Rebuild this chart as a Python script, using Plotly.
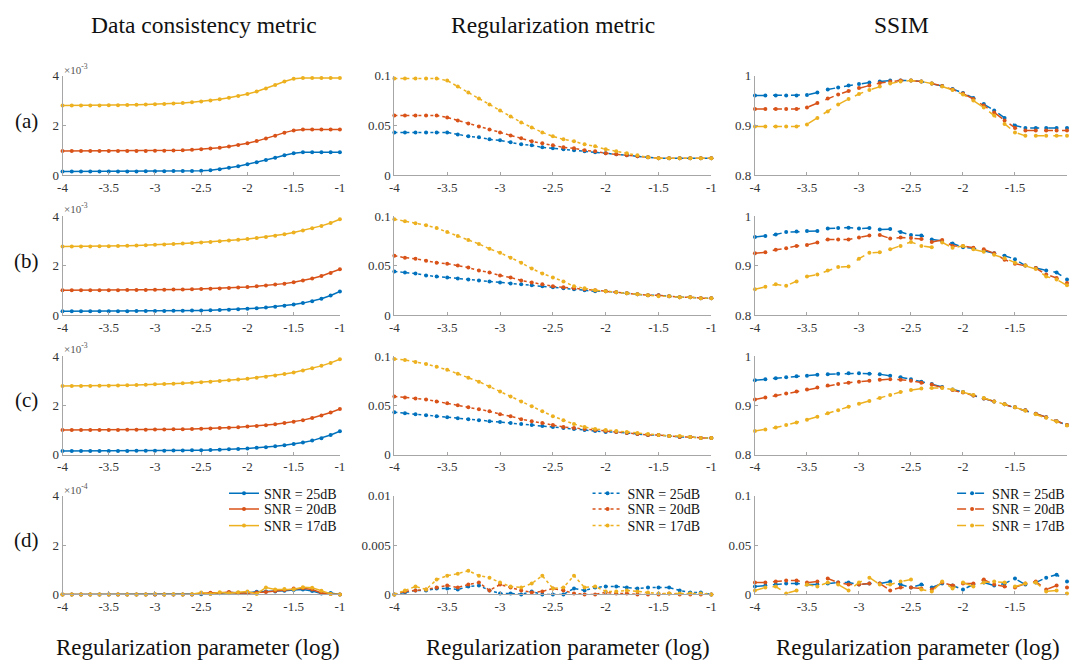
import plotly.graph_objects as go

LOG_LAMBDA = [-4.0, -3.9, -3.8, -3.7, -3.6, -3.5, -3.4, -3.3, -3.2, -3.1,
              -3.0, -2.9, -2.8, -2.7, -2.6, -2.5, -2.4, -2.3, -2.2, -2.1,
              -2.0, -1.9, -1.8, -1.7, -1.6, -1.5, -1.4, -1.3, -1.2, -1.1, -1.0]
SNR_LABELS = ["SNR = 25dB", "SNR = 20dB", "SNR = 17dB"]
X_TICKS = [-4, -3.5, -3, -2.5, -2, -1.5, -1]
X_TICKTEXT = ["-4", "-3.5", "-3", "-2.5", "-2", "-1.5", "-1"]
COL_TITLES = ["Data consistency metric", "Regularization metric", "SSIM"]
ROW_LABELS = ["(a)", "(b)", "(c)", "(d)"]
X_TITLE = "Regularization parameter (log)"

# ---- Data consistency metric (rows a-c in units of 1e-3, row d in 1e-4)
dc_a_25 = [0.15, 0.15, 0.15, 0.15, 0.15, 0.15, 0.15, 0.15, 0.15, 0.16, 0.16, 0.16, 0.17, 0.17, 0.17, 0.18,
           0.20, 0.24, 0.30, 0.36, 0.44, 0.52, 0.61, 0.70, 0.80, 0.88, 0.92, 0.92, 0.92, 0.92, 0.92]
dc_a_20 = [0.97, 0.97, 0.97, 0.97, 0.97, 0.97, 0.97, 0.97, 0.97, 0.97, 0.98, 0.98, 0.99, 1.00, 1.02, 1.04,
           1.07, 1.10, 1.15, 1.21, 1.28, 1.37, 1.47, 1.59, 1.71, 1.80, 1.84, 1.84, 1.84, 1.84, 1.84]
dc_a_17 = [2.80, 2.80, 2.80, 2.80, 2.80, 2.81, 2.81, 2.82, 2.83, 2.84, 2.85, 2.86, 2.88, 2.90, 2.93, 2.96,
           3.00, 3.05, 3.11, 3.18, 3.26, 3.36, 3.48, 3.62, 3.76, 3.87, 3.90, 3.90, 3.90, 3.90, 3.90]
dc_b_25 = [0.15, 0.15, 0.15, 0.15, 0.15, 0.15, 0.15, 0.15, 0.16, 0.16, 0.16, 0.16, 0.17, 0.17, 0.18, 0.18,
           0.19, 0.20, 0.21, 0.23, 0.25, 0.27, 0.30, 0.33, 0.37, 0.42, 0.48, 0.56, 0.66, 0.79, 0.95]
dc_b_20 = [1.00, 1.00, 1.00, 1.00, 1.00, 1.00, 1.00, 1.01, 1.01, 1.01, 1.02, 1.02, 1.03, 1.03, 1.04, 1.05,
           1.06, 1.07, 1.09, 1.11, 1.13, 1.16, 1.19, 1.23, 1.27, 1.33, 1.40, 1.48, 1.58, 1.70, 1.85]
dc_b_17 = [2.78, 2.78, 2.78, 2.78, 2.79, 2.79, 2.80, 2.81, 2.82, 2.83, 2.85, 2.86, 2.88, 2.90, 2.92, 2.94,
           2.96, 2.99, 3.02, 3.05, 3.08, 3.12, 3.16, 3.21, 3.27, 3.34, 3.42, 3.51, 3.61, 3.73, 3.88]
dc_c_25 = [0.15, 0.15, 0.15, 0.15, 0.15, 0.15, 0.15, 0.15, 0.16, 0.16, 0.16, 0.16, 0.17, 0.17, 0.18, 0.18,
           0.19, 0.20, 0.22, 0.23, 0.25, 0.28, 0.30, 0.34, 0.38, 0.43, 0.49, 0.57, 0.67, 0.80, 0.95]
dc_c_20 = [1.00, 1.00, 1.00, 1.00, 1.00, 1.00, 1.00, 1.01, 1.01, 1.01, 1.02, 1.02, 1.03, 1.03, 1.04, 1.05,
           1.06, 1.08, 1.09, 1.11, 1.14, 1.16, 1.19, 1.23, 1.28, 1.33, 1.40, 1.49, 1.59, 1.71, 1.85]
dc_c_17 = [2.78, 2.78, 2.78, 2.78, 2.79, 2.79, 2.80, 2.81, 2.82, 2.83, 2.85, 2.86, 2.88, 2.90, 2.92, 2.94,
           2.96, 2.99, 3.02, 3.05, 3.08, 3.12, 3.16, 3.21, 3.27, 3.33, 3.41, 3.50, 3.60, 3.72, 3.87]
dc_d_25 = [0, 0, 0, 0, 0, 0, 0, 0, 0, 0, 0, 0, 0, 0, 0, 0.01,
           0.03, 0.05, 0.08, 0.07, 0.06, 0.11, 0.12, 0.12, 0.15, 0.18, 0.20, 0.14, 0.04, 0.06, 0.0]
dc_d_20 = [0, 0, 0, 0, 0, 0, 0, 0, 0, 0, 0, 0, 0, 0, 0, 0.04,
           0.07, 0.06, 0.10, 0.05, 0.05, 0.08, 0.10, 0.14, 0.18, 0.24, 0.25, 0.20, 0.06, 0.02, 0.0]
dc_d_17 = [0, 0, 0, 0, 0, 0, 0, 0, 0, 0, 0.02, 0.0, 0.01, 0.0, 0.01, 0.08,
           0.02, 0.09, 0.05, 0.09, 0.12, 0.02, 0.28, 0.20, 0.22, 0.21, 0.29, 0.27, 0.15, 0.02, 0.0]

# ---- Regularization metric
rg_a_25 = [.043, .043, .043, .043, .043, .043, .041, .039, .038, .036, .035, .033, .031, .030, .028, .027,
           .026, .025, .024, .023, .022, .021, .020, .019, .018, .017, .017, .017, .017, .017, .017]
rg_a_20 = [.060, .060, .060, .060, .060, .058, .055, .052, .049, .046, .043, .040, .037, .034, .032, .030,
           .028, .027, .025, .024, .022, .021, .020, .019, .018, .017, .017, .017, .017, .017, .017]
rg_a_17 = [.097, .097, .097, .097, .097, .095, .089, .083, .077, .071, .065, .059, .053, .048, .043, .039,
           .036, .034, .031, .029, .026, .024, .022, .020, .018, .017, .017, .017, .017, .017, .017]
rg_b_25 = [.044, .043, .042, .040, .039, .038, .037, .036, .035, .034, .033, .032, .031, .030, .029, .028,
           .027, .026, .025, .024, .024, .023, .022, .021, .020, .020, .019, .018, .018, .017, .017]
rg_b_20 = [.060, .058, .057, .055, .053, .052, .050, .048, .045, .043, .040, .038, .035, .033, .031, .029,
           .028, .027, .026, .025, .024, .023, .022, .021, .020, .020, .019, .018, .018, .017, .017]
rg_b_17 = [.097, .095, .093, .091, .088, .084, .080, .076, .072, .067, .063, .058, .053, .047, .042, .038,
           .034, .029, .027, .025, .024, .023, .022, .021, .020, .019, .019, .018, .018, .017, .017]
rg_c_25 = [.043, .042, .041, .040, .039, .038, .037, .036, .035, .034, .033, .032, .031, .030, .029, .028,
           .027, .026, .025, .024, .023, .023, .022, .021, .020, .020, .019, .018, .018, .017, .017]
rg_c_20 = [.059, .058, .057, .056, .054, .052, .050, .048, .046, .044, .041, .039, .036, .034, .032, .030,
           .028, .027, .026, .025, .024, .023, .022, .021, .020, .020, .019, .018, .018, .017, .017]
rg_c_17 = [.097, .096, .094, .092, .089, .086, .082, .078, .074, .069, .064, .059, .054, .049, .044, .039,
           .035, .031, .028, .026, .025, .024, .023, .022, .021, .020, .019, .019, .018, .017, .017]
rg_d_25 = [0, .0002, .0004, .0004, .0006, .0006, .0005, .0008, .0009, .0004, .0001, .0001, .0000, .0003,
           .0000, .0000, .0000, .0006, .0004, .0007, .0008, .0008, .0007, .0006, .0007, .0007, .0007,
           .0004, .0002, .0002, 0]
rg_d_20 = [0, .0003, .0004, .0005, .0007, .0009, .0007, .0010, .0012, .0004, .0010, .0007, .0004, .0002,
           .0003, .0006, .0004, .0001, .0000, .0000, .0002, .0001, .0001, .0000, .0000, .0000, .0001,
           .0000, .0000, .0000, 0]
rg_d_17 = [0, .0004, .0008, .0005, .0015, .0019, .0021, .0024, .0019, .0017, .0012, .0008, .0007, .0011,
           .0019, .0006, .0007, .0019, .0007, .0008, .0003, .0003, .0004, .0003, .0002, .0001, .0001,
           .0001, .0001, .0001, 0]

# ---- SSIM
ss_a_25 = [.960, .960, .960, .960, .960, .961, .966, .972, .976, .980, .983, .986, .988, .990, .990, .990,
           .988, .984, .979, .973, .965, .955, .943, .930, .915, .900, .895, .895, .895, .895, .895]
ss_a_20 = [.933, .933, .933, .933, .933, .936, .945, .954, .962, .969, .975, .980, .985, .988, .990, .990,
           .988, .984, .979, .972, .964, .953, .940, .926, .910, .895, .890, .890, .890, .890, .890]
ss_a_17 = [.898, .898, .898, .898, .898, .902, .915, .928, .942, .953, .963, .971, .978, .984, .988, .990,
           .988, .984, .978, .971, .962, .950, .936, .920, .903, .886, .879, .879, .879, .879, .879]
ss_b_25 = [.958, .960, .963, .968, .969, .970, .970, .975, .976, .977, .975, .976, .973, .974, .968, .962,
           .961, .953, .950, .945, .937, .935, .930, .925, .920, .913, .900, .895, .890, .886, .872]
ss_b_20 = [.925, .927, .932, .935, .940, .942, .947, .953, .953, .953, .957, .961, .962, .955, .957, .956,
           .954, .948, .952, .940, .940, .936, .933, .925, .912, .904, .900, .895, .882, .875, .865]
ss_b_17 = [.852, .857, .862, .859, .868, .878, .882, .890, .897, .898, .914, .926, .927, .933, .940, .948,
           .940, .937, .947, .936, .940, .933, .928, .922, .915, .906, .900, .893, .878, .872, .860]
ss_c_25 = [.951, .953, .955, .957, .959, .960, .962, .963, .964, .965, .965, .964, .963, .960, .957, .953,
           .948, .943, .937, .932, .927, .920, .914, .908, .902, .896, .890, .883, .876, .868, .860]
ss_c_20 = [.912, .916, .920, .924, .928, .932, .936, .940, .943, .946, .948, .950, .952, .953, .952, .950,
           .946, .942, .936, .931, .926, .920, .914, .908, .902, .896, .890, .883, .876, .868, .860]
ss_c_17 = [.848, .851, .855, .860, .865, .871, .877, .884, .890, .897, .903, .909, .915, .921, .927, .931,
           .934, .935, .935, .932, .927, .921, .915, .908, .902, .896, .889, .882, .875, .867, .859]
ss_d_25 = [.008, .009, .010, .011, .011, .010, .010, .011, .012, .012, .010, .011, .011, .013, .010, .007,
           .010, .007, .011, .009, .005, .010, .012, .009, .011, .016, .010, .012, .017, .020, .013]
ss_d_20 = [.012, .012, .013, .014, .014, .012, .013, .016, .012, .010, .010, .011, .011, .004, .007, .007,
           .006, .005, .012, .009, .011, .011, .015, .010, .008, .007, .011, .013, .005, .009, .007]
ss_d_17 = [.004, .007, .008, .001, .004, .010, .008, .012, .010, .004, .012, .017, .010, .010, .013, .015,
           .005, .003, .013, .006, .012, .008, .012, .013, .012, .008, .011, .012, .003, .004, .001]

COLORS = ["#0072BD", "#D95319", "#EDB120"]
FONT = "Liberation Serif"

panels = [
    [[dc_a_25, dc_a_20, dc_a_17], [rg_a_25, rg_a_20, rg_a_17], [ss_a_25, ss_a_20, ss_a_17]],
    [[dc_b_25, dc_b_20, dc_b_17], [rg_b_25, rg_b_20, rg_b_17], [ss_b_25, ss_b_20, ss_b_17]],
    [[dc_c_25, dc_c_20, dc_c_17], [rg_c_25, rg_c_20, rg_c_17], [ss_c_25, ss_c_20, ss_c_17]],
    [[dc_d_25, dc_d_20, dc_d_17], [rg_d_25, rg_d_20, rg_d_17], [ss_d_25, ss_d_20, ss_d_17]],
]

Y_DC = ([0, 4], [0, 2, 4], ["0", "2", "4"])
Y_RG = ([0, 0.1], [0, 0.05, 0.1], ["0", "0.05", "0.1"])
Y_RG_D = ([0, 0.01], [0, 0.005, 0.01], ["0", "0.005", "0.01"])
Y_SS = ([0.8, 1.0], [0.8, 0.9, 1.0], ["0.8", "0.9", "1"])
Y_SS_D = ([0, 0.1], [0, 0.05, 0.1], ["0", "0.05", "0.1"])
yspec = [[Y_DC, Y_RG, Y_SS]] * 3 + [[Y_DC, Y_RG_D, Y_SS_D]]

# The page body adds an 8px margin, so the figure is sized so the page is 1080x670.
OFF = 8
W, H = 1080 - 2 * OFF, 670 - 2 * OFF


def px(p):
    return min(max((p - OFF) / W, 0), 1)


def py(p):
    return min(max(1 - (p - OFF) / H, 0), 1)


col_px = [(58, 338), (393, 713), (757, 1078)]
row_px = [(70, 172), (214, 315), (357, 458), (500, 601)]
line_dash = ["solid", "dot", "dash"]

fig = go.Figure()
layout = {}

for r in range(4):
    for c in range(3):
        k = r * 3 + c + 1
        xa = "x" if k == 1 else f"x{k}"
        ya = "y" if k == 1 else f"y{k}"
        xkey = "xaxis" if k == 1 else f"xaxis{k}"
        ykey = "yaxis" if k == 1 else f"yaxis{k}"
        for s in range(3):
            leg = "legend"
            if r == 3:
                n = c * 3 + s + 1
                leg = "legend" if n == 1 else f"legend{n}"
            fig.add_trace(go.Scatter(
                x=LOG_LAMBDA, y=panels[r][c][s], mode="lines+markers",
                name=SNR_LABELS[s], xaxis=xa, yaxis=ya,
                line=dict(color=COLORS[s], width=1.5, dash=line_dash[c]),
                marker=dict(color=COLORS[s], size=4, symbol="circle"),
                showlegend=(r == 3), legend=leg,
                cliponaxis=False,
            ))
        x0, x1 = col_px[c]
        y0, y1 = row_px[r]
        rng, tv, tt = yspec[r][c]
        axis_common = dict(showline=True, linecolor="#A6A6A6", linewidth=1, ticks="inside",
                           ticklen=3, tickcolor="#A6A6A6", showgrid=False, zeroline=False,
                           tickfont=dict(family=FONT, size=13, color="#333333"))
        layout[xkey] = dict(domain=[px(x0), px(x1)], range=[-4, -1], anchor=ya,
                            tickvals=X_TICKS, ticktext=X_TICKTEXT, **axis_common)
        layout[ykey] = dict(domain=[py(y1), py(y0)], range=rng, anchor=xa,
                            tickvals=tv, ticktext=tt, **axis_common)

annotations = []


def label(text, cx, cy, size, color="#111111", xanchor="center"):
    return dict(text=text, x=px(cx), y=py(cy), xref="paper", yref="paper",
                xanchor=xanchor, yanchor="middle", showarrow=False,
                font=dict(family=FONT, size=size, color=color))


title_cx = [201, 553, 905]
for c in range(3):
    annotations.append(label(COL_TITLES[c], title_cx[c], 18, 23.5))
xt_cx = [195, 568, 922]
for c in range(3):
    annotations.append(label(X_TITLE, xt_cx[c], 655, 23))
row_cy = [117, 260, 402, 545]
for r in range(4):
    annotations.append(label(ROW_LABELS[r], 22, row_cy[r], 21))
exp_y = [63, 206, 349, 493]
for r in range(4):
    e = "-4" if r == 3 else "-3"
    annotations.append(label(f"×10<sup>{e}</sup>", 57, exp_y[r], 11, "#555555", "left"))

# one single-item legend per series in row (d): text left edge and row centre in page pixels
leg_text_x = [263, 630, 998]
leg_row_y = [498, 514, 531]
for c in range(3):
    for s in range(3):
        n = c * 3 + s + 1
        key = "legend" if n == 1 else f"legend{n}"
        layout[key] = dict(x=px(leg_text_x[c] - 42), y=py(leg_row_y[s]), xanchor="left", yanchor="middle",
                           bgcolor="rgba(0,0,0,0)", itemwidth=30, tracegroupgap=0,
                           font=dict(family=FONT, size=14, color="#111111"))

fig.update_layout(width=W, height=H, margin=dict(l=0, r=0, t=0, b=0), paper_bgcolor="white",
                  plot_bgcolor="white", annotations=annotations, font=dict(family=FONT), **layout)

fig.write_html("out.html", config={"displayModeBar": False})
